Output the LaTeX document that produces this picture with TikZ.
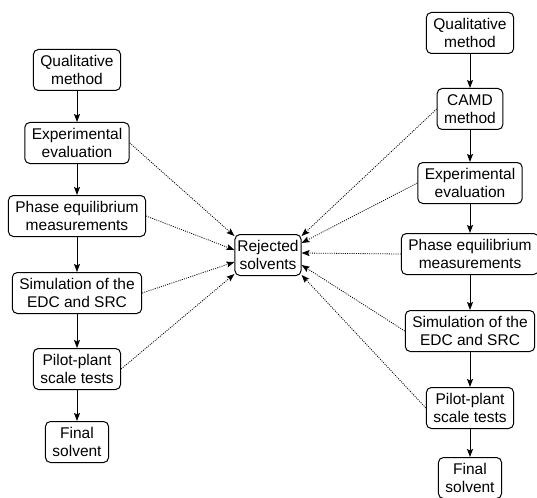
\documentclass[tikz,border=0pt]{standalone}
\usepackage{fontspec}
\setmainfont{Liberation Sans}
\usetikzlibrary{arrows.meta,calc}
\begin{document}
\begin{tikzpicture}[x=1pt,y=-1pt,
  box/.style={draw, rounded corners=5pt, line width=1pt, align=center,
    font=\fontsize{15.5}{17.5}\selectfont, inner xsep=7pt, inner ysep=2pt, minimum height=41pt},
  flow/.style={line width=1pt, -{Stealth[length=8pt,width=6pt,inset=1.5pt]}},
  rej/.style={line width=0.8pt, dash pattern=on 1pt off 1.2pt, -{Stealth[length=8pt,width=6pt,inset=1.5pt]}}]
\useasboundingbox (0,0) rectangle (537,497);
% left column
\node[box] (L1) at (77,70) {Qualitative\\method};
\node[box] (L2) at (77,143) {Experimental\\evaluation};
\node[box] (L3) at (77,216) {Phase equilibrium\\measurements};
\node[box] (L4) at (77,293) {Simulation of the\\EDC and SRC};
\node[box] (L5) at (77,369) {Pilot-plant\\scale tests};
\node[box] (L6) at (77,442) {Final\\solvent};
% center
\node[box, inner xsep=2.5pt] (rej) at (268,255) {Rejected\\solvents};
% right column
\node[box] (R1) at (470,33) {Qualitative\\method};
\node[box] (R2) at (470,109) {CAMD\\method};
\node[box] (R3) at (470,183) {Experimental\\evaluation};
\node[box] (R4) at (470,254) {Phase equilibrium\\measurements};
\node[box] (R5) at (470,331) {Simulation of the\\EDC and SRC};
\node[box] (R6) at (470,408) {Pilot-plant\\scale tests};
\node[box] (R7) at (470,478) {Final\\solvent};
% flow arrows
\draw[flow] (L1) -- (L2);
\draw[flow] (L2) -- (L3);
\draw[flow] (L3) -- (L4);
\draw[flow] (L4) -- (L5);
\draw[flow] (L5) -- (L6);
\draw[flow] (R1) -- (R2);
\draw[flow] (R2) -- (R3);
\draw[flow] (R3) -- (R4);
\draw[flow] (R4) -- (R5);
\draw[flow] (R5) -- (R6);
\draw[flow] (R6) -- (R7);
% rejected arrows
\draw[rej] (L2.east) -- ($(rej.north west)+(0,-2pt)$);
\draw[rej] (L3.east) -- ($(rej.west)+(0,5pt)$);
\draw[rej] (L4.east) -- ($(rej.west)+(0,-7pt)$);
\draw[rej] (L5.east) -- ($(rej.south west)+(0,2pt)$);
\draw[rej] (R2.west) -- ($(rej.north east)+(0,-2pt)$);
\draw[rej] (R3.west) -- ($(rej.east)+(0,12pt)$);
\draw[rej] (R4.west) -- ($(rej.east)+(0,2pt)$);
\draw[rej] (R5.west) -- ($(rej.east)+(0,-10pt)$);
\draw[rej] (R6.west) -- ($(rej.south east)+(0,1pt)$);
\end{tikzpicture}
\end{document}
